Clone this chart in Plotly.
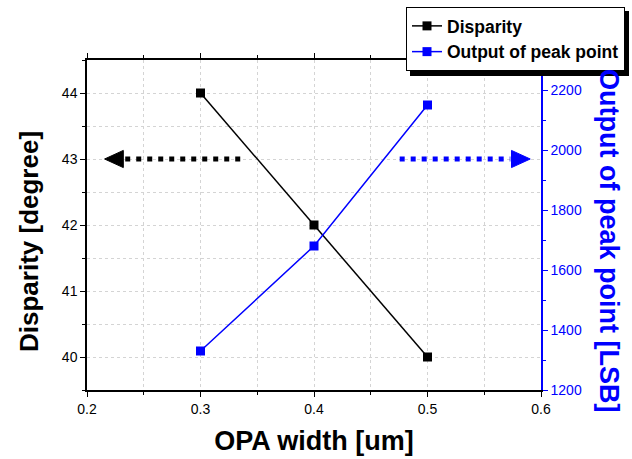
import plotly.graph_objects as go

opa_width = [0.3, 0.4, 0.5]
disparity = [44, 42, 40]
peak_output = [1330, 1680, 2150]

x_ticks = [0.2, 0.3, 0.4, 0.5, 0.6]
left_ticks = [40, 41, 42, 43, 44]
right_ticks = [1200, 1400, 1600, 1800, 2000, 2200]

FONT = "Liberation Sans, Arial, sans-serif"
BLUE = "#0000ff"
GRID = "#d4d4d4"

W, H = 632, 459
L, R, T, B = 87, 541, 60, 390
PW, PH = R - L, B - T


def px(xp):
    return (xp - L) / PW


def py(yp):
    return (B - yp) / PH


fig = go.Figure()
fig.add_trace(go.Scatter(
    x=opa_width, y=disparity, name="Disparity", mode="lines+markers",
    line=dict(color="black", width=1.5),
    marker=dict(symbol="square", size=9, color="black"),
))
fig.add_trace(go.Scatter(
    x=opa_width, y=peak_output, name="Output of peak point", mode="lines+markers",
    yaxis="y2",
    line=dict(color=BLUE, width=1.5),
    marker=dict(symbol="square", size=9, color=BLUE),
))

# direction arrows
ARROW_Y = 43.0
shapes = []
shapes.append(dict(type="line", xref="x", yref="y", x0=0.335, x1=0.233, y0=ARROW_Y, y1=ARROW_Y,
                   line=dict(color="black", width=5, dash="5px,6px")))
shapes.append(dict(type="path", xref="x", yref="y",
                   path=f"M 0.2155 {ARROW_Y} L 0.232 {ARROW_Y+0.13} L 0.232 {ARROW_Y-0.13} Z",
                   fillcolor="black", line=dict(color="black", width=1)))
shapes.append(dict(type="line", xref="x", yref="y", x0=0.4755, x1=0.573, y0=ARROW_Y, y1=ARROW_Y,
                   line=dict(color=BLUE, width=5, dash="5px,6px")))
shapes.append(dict(type="path", xref="x", yref="y",
                   path=f"M 0.5905 {ARROW_Y} L 0.574 {ARROW_Y+0.13} L 0.574 {ARROW_Y-0.13} Z",
                   fillcolor=BLUE, line=dict(color=BLUE, width=1)))
# legend shadow
shapes.append(dict(type="rect", xref="paper", yref="paper", layer="above",
                   x0=px(410), x1=px(629), y0=py(76), y1=py(11),
                   fillcolor="black", line=dict(width=0)))

fig.update_layout(
    width=W, height=H,
    margin=dict(l=L, r=W - R, t=T, b=H - B, autoexpand=False),
    paper_bgcolor="white", plot_bgcolor="white",
    font=dict(family=FONT, size=14, color="black"),
    showlegend=True,
    legend=dict(x=406 / W, y=1 - 7 / H, xref="container", yref="container",
                xanchor="left", yanchor="top",
                bgcolor="white", bordercolor="black", borderwidth=1,
                font=dict(family=FONT, size=17.5, color="black", weight="bold"),
                tracegroupgap=0, itemwidth=30),
    xaxis=dict(
        range=[0.2, 0.6], tickvals=x_ticks, ticktext=[str(v) for v in x_ticks],
        showline=True, linecolor="black", linewidth=1.5, mirror="ticks",
        ticks="outside", ticklen=5, tickcolor="black",
        showgrid=True, gridcolor=GRID, griddash="dot", gridwidth=1,
        minor=dict(dtick=0.05, tick0=0.2, ticks="outside", ticklen=3, tickcolor="black",
                   showgrid=True, gridcolor=GRID, griddash="dot"),
        zeroline=False,
        title=dict(text="<b>OPA width [um]</b>", font=dict(family=FONT, size=27, color="black"), standoff=16),
    ),
    yaxis=dict(
        range=[39.5, 44.5], tickvals=left_ticks,
        showline=True, linecolor="black", linewidth=1.5,
        ticks="outside", ticklen=5, tickcolor="black",
        showgrid=True, gridcolor=GRID, griddash="dot",
        minor=dict(dtick=0.5, tick0=39.5, ticks="outside", ticklen=3, tickcolor="black",
                   showgrid=True, gridcolor=GRID, griddash="dot"),
        zeroline=False,
    ),
    yaxis2=dict(
        range=[1200, 2300], tickvals=right_ticks, overlaying="y", side="right",
        showline=True, linecolor=BLUE, linewidth=1.5,
        ticks="outside", ticklen=5, tickcolor=BLUE,
        tickfont=dict(color=BLUE, size=14, family=FONT),
        showgrid=False,
        minor=dict(dtick=100, tick0=1200, ticks="outside", ticklen=3, tickcolor=BLUE),
        zeroline=False,
    ),
    shapes=shapes,
    annotations=[
        dict(text="<b>Disparity [degree]</b>", xref="paper", yref="paper",
             x=px(29), y=py(242), xanchor="center", yanchor="middle",
             textangle=-90, showarrow=False,
             font=dict(family=FONT, size=26, color="black")),
        dict(text="<b>Output of peak point [LSB]</b>", xref="paper", yref="paper",
             x=px(609), y=py(240), xanchor="center", yanchor="middle",
             textangle=90, showarrow=False,
             font=dict(family=FONT, size=27, color=BLUE)),
    ],
)

fig.write_html("out.html", config={"displayModeBar": False},
               post_script="document.body.style.margin='0';")
